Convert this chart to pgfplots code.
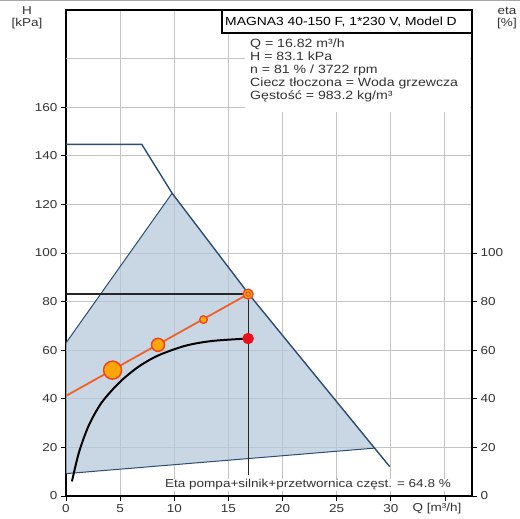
\documentclass[border=0pt]{standalone}
\usepackage{fontspec}
\setmainfont{Liberation Sans}[FakeStretch=1.18]
\usepackage{pgfplots}
\pgfplotsset{compat=1.18}
\definecolor{gridc}{HTML}{C4C4C4}
\definecolor{shade}{HTML}{B7C8DA}
\definecolor{envc}{HTML}{2B4D73}
\definecolor{sysc}{HTML}{F0602A}
\definecolor{mkfill}{HTML}{FFA50A}
\definecolor{mkedge}{HTML}{E8461E}
\definecolor{reddot}{HTML}{E8101C}
\definecolor{txt}{HTML}{333333}
\newcommand{\fs}{\fontsize{11.5}{12.5}\selectfont}
\begin{document}
\begin{tikzpicture}
\fill[gray!70] (0bp,517.5bp) rectangle (520bp,519bp);
\begin{axis}[
  at={(66bp,23bp)}, anchor=south west, scale only axis,
  width=406bp, height=486bp,
  xmin=0, xmax=37.5, ymin=0, ymax=200,
  xtick={0,5,...,35}, xticklabels={0,5,10,15,20,25,30,{}},
  ytick={0,20,...,160},
  tick pos=left,
  tick align=outside, major tick length=5bp,
  tick style={black, line width=0.8bp},
  xmajorgrids=true,
  grid style={draw=gridc, line width=0.9bp},
  axis line style={black, line width=1.8bp},
  ticklabel style={font=\fs, text=txt},
  /pgf/number format/assume math mode=true,
]
\addplot[gridc, line width=0.9bp, forget plot] coordinates {(0,20) (37.5,20)};
\addplot[gridc, line width=0.9bp, forget plot] coordinates {(0,40) (37.5,40)};
\addplot[gridc, line width=0.9bp, forget plot] coordinates {(0,60) (37.5,60)};
\addplot[gridc, line width=0.9bp, forget plot] coordinates {(0,80) (37.5,80)};
\addplot[gridc, line width=0.9bp, forget plot] coordinates {(0,100) (37.5,100)};
\addplot[gridc, line width=0.9bp, forget plot] coordinates {(0,120) (37.5,120)};
\addplot[gridc, line width=0.9bp, forget plot] coordinates {(0,140) (37.5,140)};
\addplot[gridc, line width=0.9bp, forget plot] coordinates {(0,160) (37.5,160)};
\addplot[gridc, line width=0.9bp, forget plot] coordinates {(0,180) (37.5,180)};
\addplot[fill=shade, fill opacity=0.75, draw=none] coordinates {(0,63) (9.8,124.6) (16.9,83.0) (28.5,19.7) (0,9.2)} -- cycle;
\addplot[envc, line width=1bp] coordinates {(0,63) (9.8,124.6)};
\addplot[envc, line width=1bp] coordinates {(0,9.2) (28.5,19.7)};
\addplot[envc, line width=1.4bp] coordinates {(0,144.7) (7,144.7) (9.8,124.6) (16.9,83.0) (28.5,19.7) (29.9,12.1)};
\addplot[black!85, line width=1.2bp] coordinates {(0,83.1) (16.82,83.1) (16.82,8.5)};
\addplot[sysc, line width=1.8bp] coordinates {(0,41.2) (16.82,83.1)};
\addplot[black, line width=2bp, smooth] coordinates {(0.55,6) (1.2,18) (2.1,29) (3.3,38.5) (5,47) (6.7,53.2) (8.5,57.8) (11,61.8) (13.5,63.8) (16.82,64.8)};
\addplot[only marks, mark=*, mark size=9bp, mark options={fill=mkfill, draw=mkedge, line width=1.5bp}] coordinates {(4.3,51.8)};
\addplot[only marks, mark=*, mark size=6.5bp, mark options={fill=mkfill, draw=mkedge, line width=1.5bp}] coordinates {(8.5,62.2)};
\addplot[only marks, mark=*, mark size=3.8bp, mark options={fill=mkfill, draw=mkedge, line width=1.3bp}] coordinates {(12.7,72.6)};
\addplot[only marks, mark=*, mark size=5bp, mark options={fill=mkfill, draw=mkedge, line width=1.3bp}] coordinates {(16.82,83.1)};
\addplot[only marks, mark=o, mark size=2.2bp, mark options={draw=mkedge, line width=1bp}] coordinates {(16.82,83.1)};
\addplot[only marks, mark=*, mark size=5.5bp, mark options={fill=reddot, draw=reddot}] coordinates {(16.82,64.8)};
\end{axis}
\begin{axis}[
  at={(66bp,23bp)}, anchor=south west, scale only axis,
  width=406bp, height=486bp,
  xmin=0, xmax=37.5, ymin=0, ymax=200,
  axis x line=none, axis y line*=right,
  ytick={0,20,...,100},
  tick align=outside, major tick length=5bp,
  tick style={black, line width=0.8bp},
  axis line style={black, line width=1.8bp},
  ticklabel style={font=\fs, text=txt},
  /pgf/number format/assume math mode=true,
]
\addplot[draw=none] coordinates {(0,0) (1,1)};
\end{axis}
\node[font=\fs, align=center, text=txt, inner sep=0] at (27bp,501bp) {H\\{[kPa]}};
\node[font=\fs, align=center, text=txt, inner sep=0] at (507bp,501bp) {eta\\{[\%]}};
\node[font=\fs, text=txt, inner sep=0] at (437bp,10bp) {Q [m³/h]};
\fill[white] (245bp,407bp) rectangle (470bp,486bp);
\draw[black, line width=1.2bp, fill=white] (222bp,486bp) rectangle (472bp,509bp);
\node[font=\fontsize{11.8}{12}\selectfont, anchor=west, inner sep=0, text=black] at (225bp,497.5bp) {MAGNA3 40-150 F, 1*230 V, Model D};
\node[anchor=north west, align=left, font=\fontsize{12}{13}\selectfont, text=txt, inner sep=0] at (250bp,480bp) {Q = 16.82 m³/h\\H = 83.1 kPa\\n = 81 \% / 3722 rpm\\Ciecz tłoczona = Woda grzewcza\\Gęstość = 983.2 kg/m³};
\node[font=\fs, text=txt, fill=white, inner sep=1bp] at (308bp,34bp) {Eta pompa+silnik+przetwornica częst. = 64.8 \%};
\pgfresetboundingbox
\path (0,0) rectangle (520bp,519bp);
\end{tikzpicture}
\end{document}
